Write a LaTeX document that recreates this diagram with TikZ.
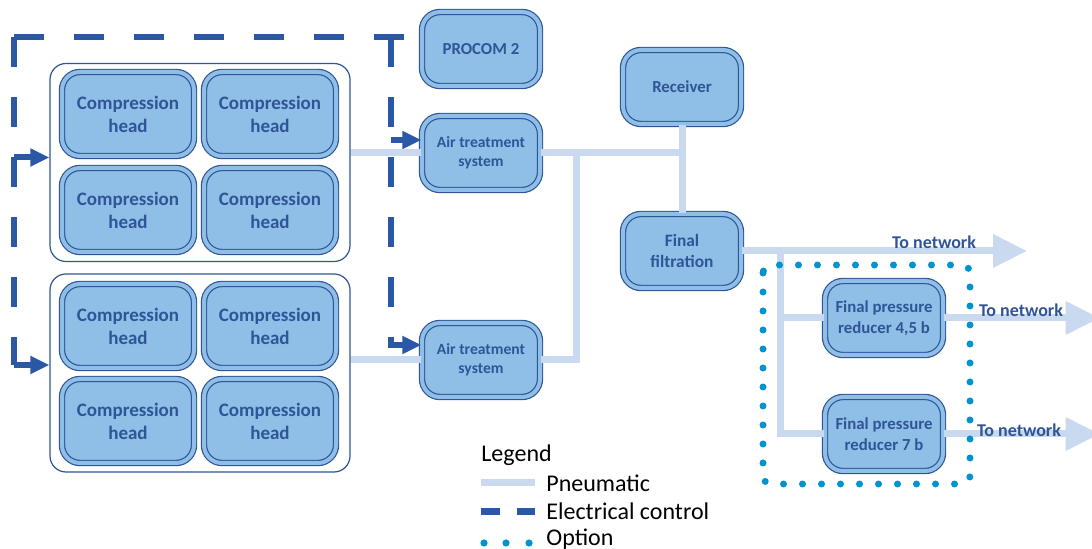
\documentclass[tikz,border=0pt]{standalone}
\usepackage{fontspec}
\setmainfont{Carlito}
\usetikzlibrary{arrows.meta,calc}
\definecolor{unitfill}{HTML}{8FBFE7}
\definecolor{unitline}{HTML}{2F5597}
\definecolor{pipeblue}{HTML}{C9DAF0}
\definecolor{elecblue}{HTML}{2B57A7}
\definecolor{optblue}{HTML}{0093D0}
\begin{document}
\begin{tikzpicture}[x=.5pt,y=-.5pt,
 unit/.style={draw=unitline,line width=.6pt,double=unitfill,double distance=2pt,fill=unitfill,rounded corners=9pt,minimum width=59pt,minimum height=37pt,inner sep=0pt,align=center,text=unitline,font=\bfseries\fontsize{8.4}{10.5}\selectfont},
 head/.style={unit,minimum width=66pt,minimum height=42pt,font=\bfseries\fontsize{9.5}{11.5}\selectfont},
 grp/.style={draw=unitline,line width=.6pt,fill=white,rounded corners=8pt,minimum width=150pt,minimum height=99pt},
 pipe/.style={pipeblue,line width=3.5pt},
 elec/.style={elecblue,line width=3pt,dash pattern=on 15pt off 15pt},
 tip/.style={-{Triangle[length=9.5pt,width=8.5pt]}},
 bigtip/.style={-{Triangle[length=17pt,width=16pt]}},
 net/.style={text=unitline,font=\bfseries\fontsize{9}{10}\selectfont},
 leg/.style={anchor=west,inner sep=0pt,font=\fontsize{12}{14}\selectfont}]
\useasboundingbox (0,0) rectangle (1092,549);
\clip (0,0) rectangle (1092,549);
\node[grp] (g1) at (200,162.5) {};
\node[grp] (g2) at (200,373) {};
\foreach \hx in {128,270} \foreach \hy in {114,210,326,421}
 \node[head] (h\hx-\hy) at (\hx,\hy) {Compression\\head};
\path (481,49) node[unit] (procom) {PROCOM 2}
 (481,153) node[unit,font=\bfseries\fontsize{7.8}{9.5}\selectfont] (ats1) {Air treatment\\system}
 (481,360) node[unit,font=\bfseries\fontsize{7.8}{9.5}\selectfont] (ats2) {Air treatment\\system}
 (682,87) node[unit] (recv) {Receiver}
 (682,251) node[unit,font=\bfseries\fontsize{8.7}{10.5}\selectfont] (filt) {Final\\filtration}
 (884,318) node[unit] (fpr1) {Final pressure\\reducer 4,5 b}
 (884,434) node[unit] (fpr2) {Final pressure\\reducer 7 b};
\coordinate (eTL) at (14,37);
\coordinate (eTR) at (391,37);
\coordinate (in1) at ($(g1.west)+(0,-5)$);
\coordinate (in2) at ($(g2.west)+(0,-8)$);
\coordinate (in3) at ($(ats1.west)+(0,-13)$);
\coordinate (in4) at ($(ats2.west)+(0,-15)$);
\draw[elec] (eTL) -- (procom.west|-eTL);
\draw[elec] (eTL) -- (eTL|-in2);
\draw[elec,tip] (eTL|-in2) -- (in2);
\draw[elec,tip] (eTL|-in1) -- (in1);
\draw[elec,tip] (eTR) |- (in4);
\draw[elec,tip] (eTR|-in3) -- (in3);
\coordinate (j1) at (576,153);
\coordinate (b1) at (780,251);
\coordinate (n1) at (1027,251);
\draw[pipe] (g1.east|-ats1.west) -- (ats1.west);
\draw[pipe] (g2.east|-ats2.west) -- (ats2.west);
\draw[pipe] (ats1.east) -- (recv|-ats1.east);
\draw[pipe] (recv.south) -- (filt.north);
\draw[pipe] (ats2.east) -| (j1);
\draw[pipe,bigtip] (filt.east) -- (n1);
\draw[pipe] (b1) |- (fpr2.west);
\draw[pipe] (b1|-fpr1.west) -- (fpr1.west);
\draw[pipe,bigtip] (fpr1.east) -- ++(156,0);
\draw[pipe,bigtip] (fpr2.east) -- ++(156,0);
\draw[optblue,line width=3.5pt,line cap=round,dash pattern=on 0pt off 9.5pt,rounded corners=4pt] (763,265) rectangle (970,484);
\path (934,242) node[net] (t1) {To network}
 (1021,310) node[net] (t2) {To network}
 (1019,430) node[net] (t3) {To network};
\node[leg] (lg) at (481,455) {Legend};
\node[leg] (lp) at (546,483) {Pneumatic};
\node[leg] (le) at (546,511) {Electrical control};
\node[leg] (lo) at (546,539) {Option};
\draw[pipe] (481,483) -- (535,483);
\draw[elecblue,line width=3.5pt,dash pattern=on 9.5pt off 8.5pt] (481,512) -- (535,512);
\foreach \ox in {484,506,529} \fill[optblue] (\ox,543) circle (1.8pt);
\end{tikzpicture}
\end{document}
